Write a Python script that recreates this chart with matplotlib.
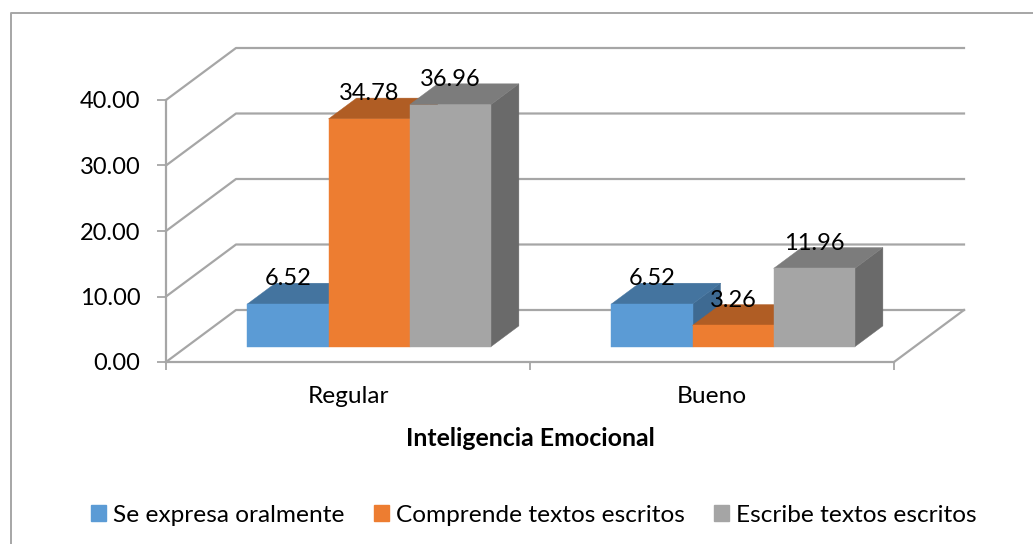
import matplotlib
matplotlib.use('Agg')
import matplotlib.pyplot as plt
from matplotlib.patches import Polygon, Patch
from matplotlib.lines import Line2D

categories = ['Regular', 'Bueno']
series_names = ['Se expresa oralmente', 'Comprende textos escritos', 'Escribe textos escritos']
values = [[6.52, 6.52], [34.78, 3.26], [36.96, 11.96]]
y_ticks = [0, 10, 20, 30, 40]

front = ['#5B9BD5', '#ED7D31', '#A5A5A5']
top = ['#44749F', '#B05D24', '#7C7C7C']
side = ['#3E6A92', '#A35722', '#6A6A6A']
grid_c = '#A6A6A6'

W, H = 1033, 544
plt.rcParams['font.family'] = ['Lato', 'DejaVu Sans']

fig = plt.figure(figsize=(W / 100, H / 100), dpi=100)
# front plane of the 3d box: x 166..894, y 362..100 px
ax = fig.add_axes([166 / W, 1 - 362 / H, 728 / W, 262 / H])
ax.set_xlim(0, 2)
ax.set_ylim(0, 40)
ax.patch.set_visible(False)

# depth shear, data units per unit of depth
DX = 70 / 364
DY = 52 / 6.55


def proj(x, y, d):
    return (x + d * DX, y + d * DY)


# back wall and floor
for t in y_ticks:
    xs = [proj(0, t, 0)[0], proj(0, t, 1)[0], proj(2, t, 1)[0]]
    ys = [proj(0, t, 0)[1], proj(0, t, 1)[1], proj(2, t, 1)[1]]
    ax.add_line(Line2D(xs, ys, color=grid_c, lw=1.6, clip_on=False, zorder=1))
xs = [proj(2, 0, 0)[0], proj(2, 0, 1)[0]]
ys = [proj(2, 0, 0)[1], proj(2, 0, 1)[1]]
ax.add_line(Line2D(xs, ys, color=grid_c, lw=1.6, clip_on=False, zorder=1))

# bars
bar_w = 0.223
gap = 0.167
d0, d1 = 0.294, 0.694


def add_bar(x0, v, j):
    x1 = x0 + bar_w
    faces = [
        ([proj(x1, 0, d0), proj(x1, 0, d1), proj(x1, v, d1), proj(x1, v, d0)], side[j]),
        ([proj(x0, v, d0), proj(x1, v, d0), proj(x1, v, d1), proj(x0, v, d1)], top[j]),
        ([proj(x0, 0, d0), proj(x1, 0, d0), proj(x1, v, d0), proj(x0, v, d0)], front[j]),
    ]
    for pts, c in faces:
        ax.add_patch(Polygon(pts, closed=True, facecolor=c, edgecolor=c, lw=0.3, clip_on=False, zorder=3))


for i in range(len(categories)):
    for j in range(len(series_names)):
        add_bar(i + gap + j * bar_w, values[j][i], j)

# value labels sit about 26 px above the front top edge of each bar
for i in range(len(categories)):
    for j in range(len(series_names)):
        v = values[j][i]
        cx = i + gap + j * bar_w + bar_w / 2
        ax.annotate('%.2f' % v, proj(cx, v, d0), xytext=(0, 18.2), textcoords='offset points',
                    ha='center', va='center', fontsize=17, color='black', zorder=5, annotation_clip=False)

ax.set_xticks([0, 1, 2])
ax.set_xticklabels([])
ax.set_yticks(y_ticks)
ax.set_yticklabels(['%.2f' % t for t in y_ticks], fontsize=17, va='center_baseline')
ax.tick_params(axis='y', length=6.5, width=1.3, color=grid_c, pad=12)
ax.tick_params(axis='x', length=6, width=1.3, color=grid_c)
for s in ['top', 'right']:
    ax.spines[s].set_visible(False)
for s in ['left', 'bottom']:
    ax.spines[s].set_color(grid_c)
    ax.spines[s].set_linewidth(1.6)
for i, c in enumerate(categories):
    ax.text(i + 0.5, -5.3, c, ha='center', va='center', fontsize=17.6)

ax.set_xlabel('Inteligencia Emocional', fontsize=17.9, fontweight='bold', labelpad=37)

handles = [Patch(facecolor=c, edgecolor=c) for c in front]
fig.legend(handles, series_names, loc='center', bbox_to_anchor=(534 / W, 1 - 515 / H), ncol=3,
           frameon=False, fontsize=17.6, handlelength=0.6, handleheight=0.6,
           handletextpad=0.28, columnspacing=1.22)

# chart frame, only left and top show in the picture
fig.add_artist(Line2D([10.5 / W, 10.5 / W, 1], [0, 1 - 12.5 / H, 1 - 12.5 / H],
                      color=grid_c, lw=1.4))

fig.savefig('out.png', dpi=100)
